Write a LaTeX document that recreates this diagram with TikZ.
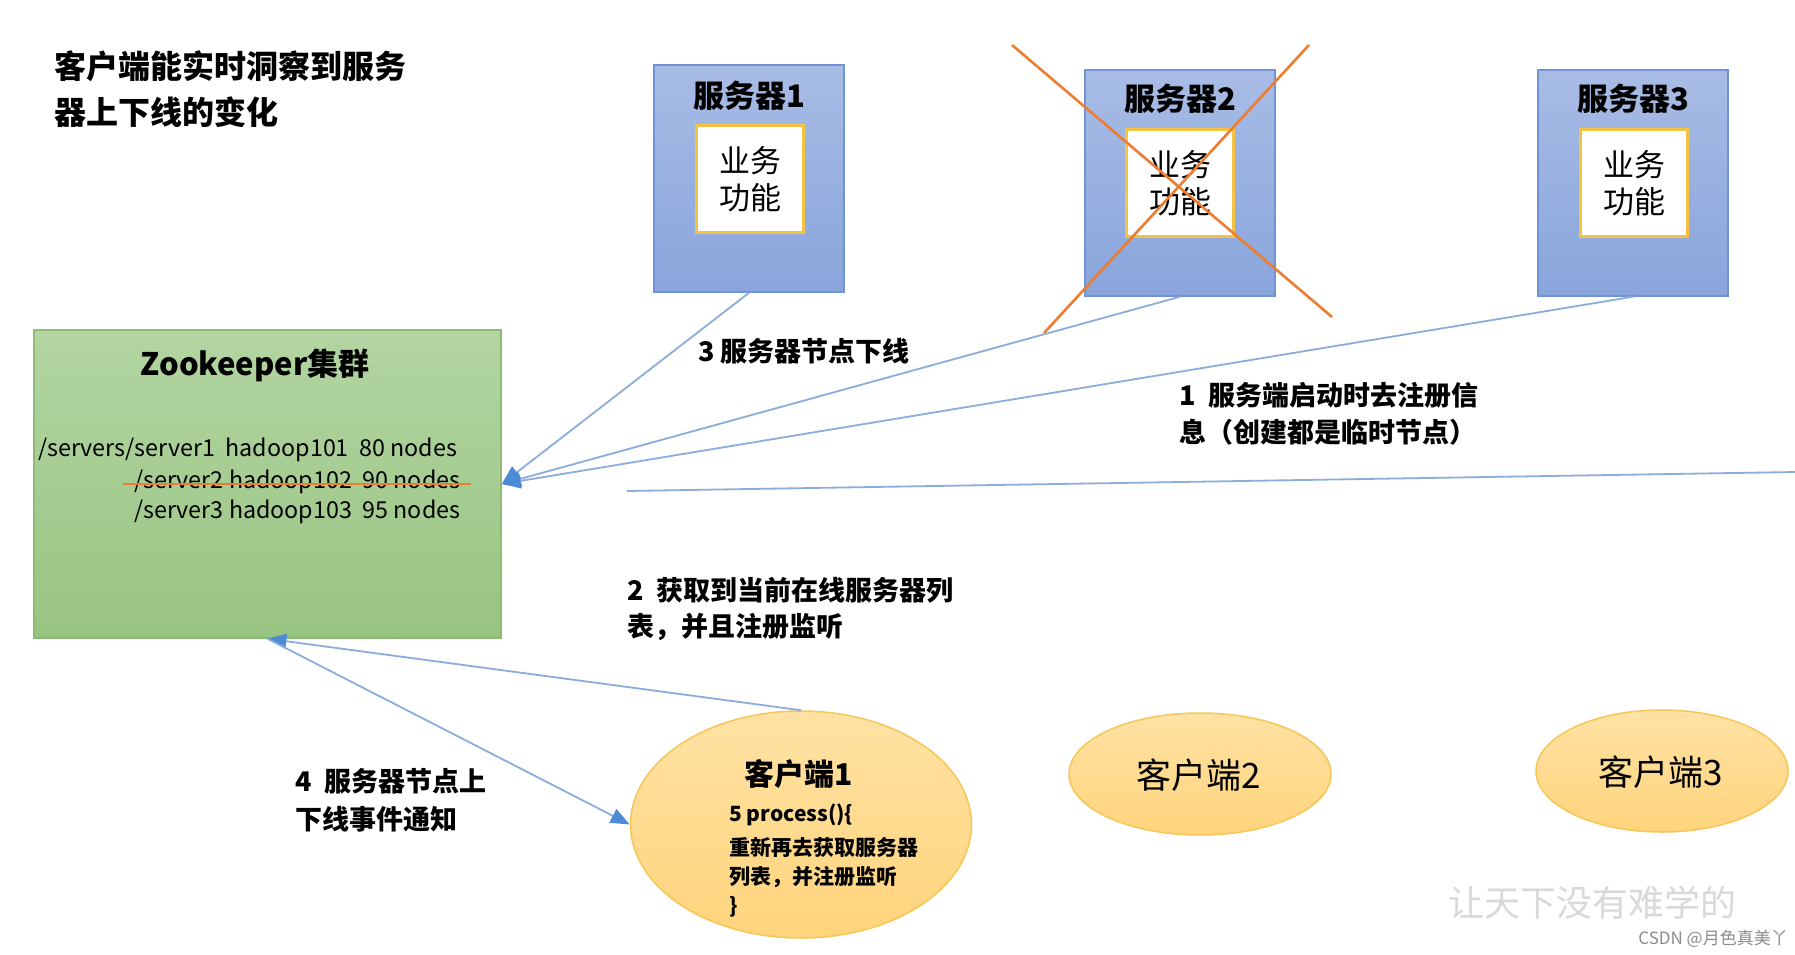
\documentclass[tikz,border=0pt]{standalone}
\usepackage{fontspec}
\setmainfont{Noto Sans CJK SC}
\usetikzlibrary{arrows.meta,shapes.geometric}
\definecolor{srvtop}{HTML}{A8BCE5}
\definecolor{srvbot}{HTML}{89A5DC}
\definecolor{srvline}{HTML}{7094D3}
\definecolor{gold}{HTML}{F6C244}
\definecolor{zktop}{HTML}{B3D5A2}
\definecolor{zkbot}{HTML}{98C482}
\definecolor{zkline}{HTML}{8DBB74}
\definecolor{cltop}{HTML}{FFE2A4}
\definecolor{clbot}{HTML}{FFD47C}
\definecolor{clline}{HTML}{F6C658}
\definecolor{linec}{HTML}{8AADDB}
\definecolor{arrowc}{HTML}{4C8BD6}
\definecolor{xorange}{HTML}{ED7D31}
\tikzset{
  server/.style={draw=srvline, line width=1.5pt, top color=srvtop, bottom color=srvbot, inner sep=0pt},
  func/.style={draw=gold, line width=3pt, fill=white, align=center, inner sep=0pt,
    minimum width=107pt, minimum height=107pt, font=\fontsize{31}{37}\selectfont},
  srvtitle/.style={font=\fontsize{31}{37}\selectfont\bfseries, inner sep=0pt},
  zkbox/.style={draw=zkline, line width=1.5pt, top color=zktop, bottom color=zkbot, inner sep=0pt},
  client/.style={ellipse, draw=clline, line width=1.5pt, top color=cltop, bottom color=clbot, inner sep=0pt},
  conn/.style={draw=linec, line width=1.8pt},
  tipped/.style={conn, -{Triangle[length=19pt,width=15pt,color=arrowc]}},
  lbl/.style={anchor=west, inner sep=0pt, font=\fontsize{27}{30}\selectfont\bfseries},
  zktext/.style={anchor=west, inner sep=0pt, font=\fontsize{23.3}{26}\selectfont},
  cross/.style={draw=xorange, line width=2.6pt},
  codetext/.style={anchor=west, inner sep=0pt, font=\fontsize{21}{25}\selectfont\bfseries}
}
\begin{document}
\begin{tikzpicture}[x=1pt,y=-1pt]
\useasboundingbox[fill=white] (0,0) rectangle (1795,955);

% title
\node[anchor=west, inner sep=0pt, font=\fontsize{32}{37}\selectfont\bfseries] (t1) at (54,66) {客户端能实时洞察到服务};
\node[anchor=west, inner sep=0pt, font=\fontsize{32}{37}\selectfont\bfseries] (t2) at (54,112) {器上下线的变化};

% servers
\node[server, minimum width=190pt, minimum height=227pt] (s1) at (749,178.5) {};
\node[srvtitle] (s1t) at (749,96) {服务器1};
\node[func] (f1) at (750,179) {业务\\功能};

\node[server, minimum width=190pt, minimum height=226pt] (s2) at (1180,183) {};
\node[srvtitle] (s2t) at (1180,99) {服务器2};
\node[func] (f2) at (1180,183) {业务\\功能};

\node[server, minimum width=190pt, minimum height=226pt] (s3) at (1633,183) {};
\node[srvtitle] (s3t) at (1633,99) {服务器3};
\node[func] (f3) at (1634,183) {业务\\功能};

% cross over server 2
\draw[cross] (1012,45) -- (1332,317);
\draw[cross] (1309,45) -- (1044,333);

% zookeeper
\node[zkbox, minimum width=467pt, minimum height=308pt] (zk) at (267.5,484) {};
\node[inner sep=0pt, font=\fontsize{31}{37}\selectfont\bfseries] (zkt) at (255,365) {Zookeeper集群};
\node[zktext] (z1) at (38,450) {/servers/server1\ \ hadoop101\ \ 80 nodes};
\node[zktext] (z2) at (134,482) {/server2 hadoop102\ \ 90 nodes};
\node[zktext] (z3) at (134,512) {/server3 hadoop103\ \ 95 nodes};
\draw[cross] (123,484) -- (471,484);

% clients
\node[client, minimum width=341pt, minimum height=227pt] (c1) at (801,824.5) {};
\node[inner sep=0pt, font=\fontsize{30}{36}\selectfont\bfseries] (c1t) at (799,774) {客户端1};
\node[codetext] (p1) at (729,815) {5 process()\{};
\node[codetext] (p2) at (729,847) {重新再去获取服务器};
\node[codetext] (p3) at (729,877) {列表，并注册监听};
\node[codetext] (p4) at (729,907) {\}};

\node[client, minimum width=262pt, minimum height=122pt] (c2) at (1200,774) {};
\node[inner sep=0pt, font=\fontsize{35}{40}\selectfont] (c2t) at (1199,775) {客户端2};
\node[client, minimum width=252pt, minimum height=122pt] (c3) at (1662,771) {};
\node[inner sep=0pt, font=\fontsize{35}{40}\selectfont] (c3t) at (1661,772) {客户端3};

% connectors
\draw[tipped] (s1.south) -- (zk.east);
\draw[tipped] (s2.south) -- (zk.east);
\draw[tipped] (s3.south) -- (zk.east);
\coordinate (la) at (627,491);
\coordinate (lb) at (1795,472);
\draw[conn] (la) -- (lb);
\draw[tipped] (c1.north) -- (zk.south);
\draw[tipped] (zk.south) -- (c1.west);

% labels
\node[lbl] (l3) at (698,351) {3 服务器节点下线};
\node[lbl] (l1a) at (1179,395) {1\ \ 服务端启动时去注册信};
\node[lbl] (l1b) at (1179,432) {息（创建都是临时节点）};
\node[lbl] (l2a) at (627,590) {2\ \ 获取到当前在线服务器列};
\node[lbl] (l2b) at (627,627) {表，并且注册监听};
\node[lbl] (l4a) at (295,781) {4\ \ 服务器节点上};
\node[lbl] (l4b) at (295,819) {下线事件通知};

% watermarks
\node[anchor=west, inner sep=0pt, text=black!15, font=\fontsize{36}{40}\selectfont] (wm) at (1448,903) {让天下没有难学的};
\node[anchor=east, inner sep=0pt, text=black!45, font=\fontsize{17}{20}\selectfont] (csdn) at (1788,939) {CSDN @月色真美丫};
\end{tikzpicture}
\end{document}
